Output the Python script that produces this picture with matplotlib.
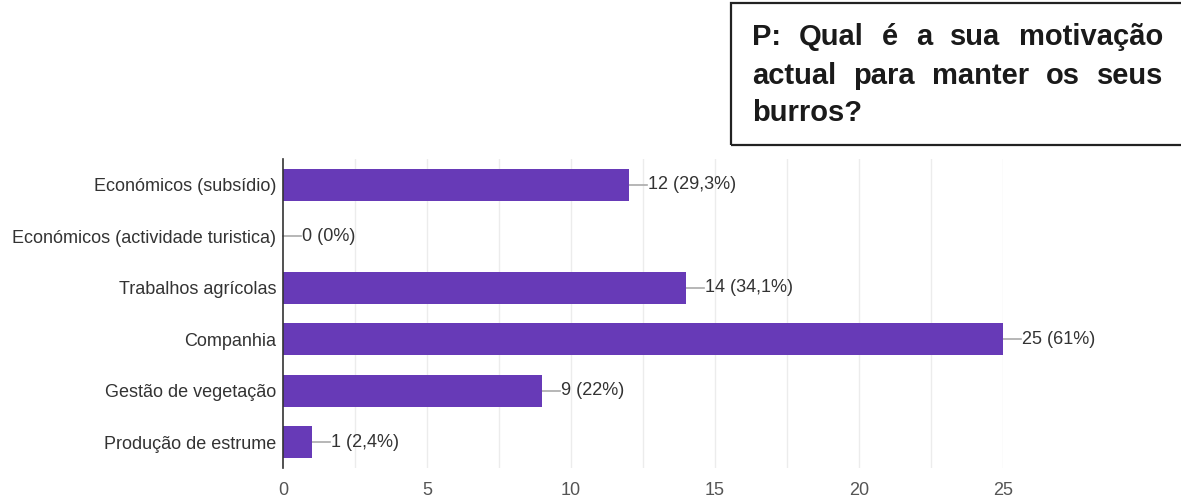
import matplotlib.pyplot as plt
from matplotlib.patches import Rectangle

plt.rcParams["font.family"] = ["Liberation Sans", "DejaVu Sans"]

categories = [
    "Económicos (subsídio)",
    "Económicos (actividade turistica)",
    "Trabalhos agrícolas",
    "Companhia",
    "Gestão de vegetação",
    "Produção de estrume",
]
counts = [12, 0, 14, 25, 9, 1]
percents = ["29,3%", "0%", "34,1%", "61%", "22%", "2,4%"]
xticks = [0, 5, 10, 15, 20, 25]
title_lines = [
    "P: Qual é a sua motivação",
    "actual para manter os seus",
    "burros?",
]

W, H = 1181, 499
fig = plt.figure(figsize=(W / 100, H / 100), dpi=100)
ax = fig.add_axes([283 / W, 1 - 468 / H, 720 / W, 309 / H])

bar_color = "#673ab7"
ypos = list(range(len(categories)))
ax.barh(ypos, counts, height=0.62, color=bar_color, zorder=3)
ax.set_ylim(len(categories) - 0.5, -0.5)
ax.set_xlim(0, 25)

# light vertical grid every 2.5
for gx in [i * 2.5 for i in range(1, 11)]:
    ax.axvline(gx, color="#ececec", lw=1, zorder=1)

fs = 13
ax.set_yticks(ypos)
ax.set_yticklabels(categories, fontsize=fs, color="#333333")
ax.set_xticks(xticks)
ax.set_xticklabels([str(t) for t in xticks], fontsize=fs, color="#555555")
ax.tick_params(axis="both", length=0)
ax.tick_params(axis="y", pad=5)
ax.tick_params(axis="x", pad=10)
for side in ["top", "right", "bottom"]:
    ax.spines[side].set_visible(False)
ax.spines["left"].set_color("#333333")
ax.spines["left"].set_linewidth(1.2)
ax.spines["left"].set_zorder(4)

# value labels with a short grey leader line
units_per_px = 25 / 720
for y, c, p in zip(ypos, counts, percents):
    gap = 18 * units_per_px
    ax.plot([c, c + gap], [y, y], color="#aaaaaa", lw=1.2, zorder=2, clip_on=False)
    ax.text(c + gap + 1 * units_per_px, y, f"{c} ({p})", va="center", ha="left",
            fontsize=fs, color="#333333", clip_on=False)

# question box, top right
fig.patches.append(Rectangle((731 / W, 1 - 145 / H), 460 / W, 142 / H,
                             transform=fig.transFigure, fill=False,
                             edgecolor="#222222", lw=1.6))

fig.canvas.draw()
renderer = fig.canvas.get_renderer()
left_px, right_px = 752, 1163
line_y = [37, 76, 113]
tfs = 21
for i, line in enumerate(title_lines):
    words = line.split(" ")
    y = 1 - line_y[i] / H
    if i == len(title_lines) - 1:
        fig.text(left_px / W, y, line, fontsize=tfs, fontweight="bold",
                 color="#1a1a1a", va="center", ha="left")
        continue
    arts = [fig.text(0, y, w, fontsize=tfs, fontweight="bold", color="#1a1a1a",
                     va="center", ha="left") for w in words]
    widths = [a.get_window_extent(renderer).width for a in arts]
    space = (right_px - left_px - sum(widths)) / (len(words) - 1)
    x = left_px
    for a, wd in zip(arts, widths):
        a.set_x(x / W)
        x += wd + space

fig.savefig("out.png", dpi=100, facecolor="white")
